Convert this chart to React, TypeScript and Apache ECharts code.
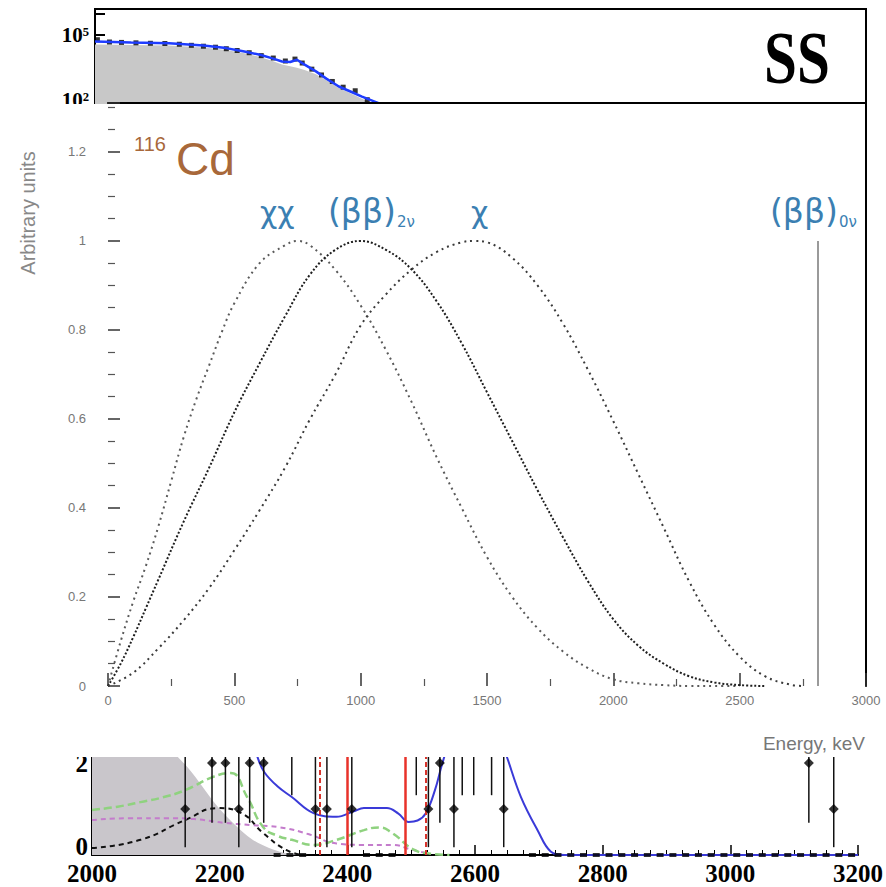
import React, { useEffect, useRef } from 'react';
import * as echarts from 'echarts';

// ---------- main panel (116Cd spectra) ----------
const xxEnergy = [0, 50, 100, 150, 200, 250, 300, 350, 400, 450, 500, 600, 700, 750, 800, 900, 1000, 1100, 1200, 1300, 1400, 1500, 1600, 1700, 1800, 1900, 2000, 2100, 2200, 2300, 2400, 2500];
const xxValue = [0, 0.1, 0.19, 0.27, 0.36, 0.46, 0.56, 0.645, 0.72, 0.795, 0.86, 0.95, 0.99, 1.0, 0.99, 0.935, 0.855, 0.755, 0.64, 0.515, 0.4, 0.29, 0.2, 0.13, 0.078, 0.04, 0.015, 0.006, 0.002, 0, 0, 0];

const bb2Energy = [0, 50, 100, 150, 200, 300, 400, 500, 600, 700, 800, 900, 1000, 1100, 1200, 1300, 1400, 1500, 1600, 1700, 1800, 1900, 2000, 2100, 2200, 2300, 2400, 2500, 2600];
const bb2Value = [0, 0.05, 0.11, 0.175, 0.24, 0.37, 0.49, 0.615, 0.725, 0.83, 0.925, 0.98, 1.0, 0.98, 0.937, 0.865, 0.77, 0.66, 0.55, 0.44, 0.335, 0.235, 0.15, 0.09, 0.05, 0.022, 0.008, 0.002, 0];

const chiEnergy = [0, 100, 200, 300, 400, 500, 600, 700, 800, 900, 1000, 1100, 1200, 1300, 1400, 1450, 1500, 1600, 1700, 1800, 1900, 2000, 2100, 2200, 2300, 2400, 2500, 2600, 2700, 2750];
const chiValue = [0, 0.03, 0.085, 0.148, 0.22, 0.305, 0.395, 0.49, 0.6, 0.7, 0.81, 0.88, 0.935, 0.975, 0.997, 1.0, 0.997, 0.962, 0.9, 0.815, 0.71, 0.595, 0.475, 0.355, 0.235, 0.137, 0.066, 0.022, 0.003, 0];

const q0nuEnergy = 2810;
const q0nuHeight = 1.0;

// ---------- top strip (SS spectrum, log scale) ----------
const topModelEnergy = [0, 150, 307, 450, 544, 620, 685, 740, 776, 810, 838, 870, 917, 960, 1012, 1060, 1108, 1174, 1240];
const topModelCounts = [49000, 45000, 41500, 32000, 24500, 17000, 12000, 8000, 5900, 5600, 7100, 4200, 2050, 950, 410, 240, 140, 71, 30];
const topFillEnergy = [0, 150, 307, 450, 544, 620, 685, 740, 776, 810, 838, 870, 917, 960, 1012, 1060, 1108, 1174, 1240];
const topFillCounts = [36000, 34000, 32000, 26000, 20000, 14000, 9500, 6000, 4300, 3500, 3000, 2400, 1500, 800, 350, 200, 110, 50, 20];
const topDataEnergy = [10, 60, 110, 170, 230, 290, 350, 400, 450, 500, 545, 590, 640, 690, 740, 790, 830, 860, 900, 940, 985, 1030, 1080, 1130];
const topDataCounts = [60000, 47000, 45000, 43000, 41000, 40000, 37000, 33000, 30000, 27000, 23000, 19000, 15000, 11000, 8500, 6200, 7600, 5000, 2600, 1400, 700, 380, 260, 100];

// ---------- bottom strip (ROI counts) ----------
const botGrayEnergy = [2000, 2050, 2100, 2150, 2200, 2250, 2300, 2350];
const botGrayValue = [3.6, 3.2, 2.6, 1.9, 1.0, 0.35, 0.05, 0];
const botBlueEnergy = [2200, 2240, 2260, 2270, 2290, 2313, 2347, 2383, 2410, 2426, 2462, 2480, 2496, 2510, 2523, 2537, 2549, 2570, 2600, 2630, 2650, 2672, 2698, 2719, 2740, 3200];
const botBlueValue = [4.2, 3.0, 2.1, 1.8, 1.5, 1.26, 0.91, 0.83, 0.95, 1.02, 1.02, 0.9, 0.72, 0.75, 0.91, 1.4, 2.0, 2.9, 3.5, 2.9, 2.13, 1.26, 0.54, 0.07, 0, 0];
const botGreenEnergy = [2000, 2040, 2076, 2110, 2146, 2190, 2217, 2243, 2268, 2290, 2313, 2347, 2383, 2426, 2450, 2470, 2505, 2530, 2560];
const botGreenValue = [0.98, 1.05, 1.15, 1.25, 1.41, 1.7, 1.78, 1.26, 0.61, 0.42, 0.33, 0.22, 0.33, 0.54, 0.6, 0.48, 0.11, 0.03, 0];
const botMagentaEnergy = [2000, 2060, 2119, 2160, 2207, 2250, 2295, 2340, 2383, 2420, 2470, 2500, 2530];
const botMagentaValue = [0.76, 0.8, 0.8, 0.78, 0.7, 0.65, 0.6, 0.45, 0.25, 0.22, 0.22, 0.12, 0.02];
const botBlackEnergy = [2000, 2076, 2146, 2198, 2234, 2268, 2304, 2330];
const botBlackValue = [0.15, 0.33, 0.76, 1.02, 0.91, 0.48, 0.11, 0];
const roiSolid = [2400, 2490];
const roiDashed = [2357, 2523];
const pointEnergy = [2146, 2188, 2209, 2230, 2247, 2269, 2350, 2368, 2407, 2527, 2545, 2567, 2645, 3123, 3162];
const pointCount = [1, 2, 2, 1, 2, 2, 1, 1, 1, 1, 2, 1, 1, 2, 1];
const pointErrLow = [0.17, 0.7, 0.7, 0.17, 0.7, 0.7, 0.17, 0.17, 0.17, 0.17, 0.7, 0.17, 0.17, 0.7, 0.17];
const pointErrHigh = [3.3, 4.6, 4.6, 3.3, 4.6, 4.6, 3.3, 3.3, 3.3, 3.3, 4.6, 3.3, 3.3, 4.6, 3.3];
const emptyBarEnergy = [2313, 2508, 2580, 2598, 2626];
const emptyBarLow = [1.3, 1.3, 1.3, 1.3, 1.3];
const emptyBarHigh = [4.2, 4.2, 4.2, 4.2, 4.2];
const zeroBinEnergy = [2290, 2310, 2330, 2430, 2450, 2470, 2690, 2710, 2730, 2750, 2770, 2790, 2810, 2830, 2850, 2870, 2890, 2910, 2930, 2950, 2970, 2990, 3010, 3030, 3050, 3070, 3090, 3110, 3130, 3150, 3170, 3190];

const zip = (xs: number[], ys: number[]) => xs.map((x, i) => [x, ys[i]]);

const SANS = '"Liberation Sans", Arial, sans-serif';
const GREEK = '"DejaVu Sans", "Liberation Sans", sans-serif';
const SERIF = '"Liberation Serif", "Times New Roman", serif';
const BLUE_TXT = '#3b7fb2';
const BROWN_TXT = '#a8683a';

function errorBarRender(params: any, api: any) {
  const x = api.value(0);
  const p1 = api.coord([x, api.value(1)]);
  const p2 = api.coord([x, api.value(2)]);
  return {
    type: 'line',
    shape: { x1: p1[0], y1: p1[1], x2: p2[0], y2: p2[1] },
    style: { stroke: '#111', lineWidth: 1.5 },
  };
}

function txt(text: string, x: number, y: number, font: string, fill: string, align = 'left', extra: any = {}) {
  return {
    type: 'text',
    x,
    y,
    z: 70,
    ...extra,
    style: { text, font, fill, textAlign: align, align, textVerticalAlign: 'middle', verticalAlign: 'middle' },
  };
}

export default function App() {
  const ref = useRef<HTMLDivElement>(null);
  useEffect(() => {
    const chart = echarts.init(ref.current!, null, { renderer: 'svg' });
    const option: any = {
      animation: false,
      backgroundColor: '#ffffff',
      grid: [
        { left: 95, right: 20, top: 9, height: 108, show: true, borderColor: '#000', borderWidth: 2, backgroundColor: 'transparent' },
        { left: 92, right: 20, top: 671, height: 184 },
        { left: 108, right: 20, top: 103, height: 583 },
      ],
      xAxis: [
        { gridIndex: 0, type: 'value', min: 0, max: 3200, axisLabel: { show: false }, axisTick: { show: false }, axisLine: { show: false }, splitLine: { show: false } },
        {
          gridIndex: 1, type: 'value', min: 2000, max: 3200, interval: 200,
          axisLine: { onZero: false, lineStyle: { color: '#000', width: 2 } },
          axisTick: { inside: true, length: 10, lineStyle: { color: '#000', width: 1.5 } },
          minorTick: { show: true, splitNumber: 8, length: 5, lineStyle: { color: '#000' } },
          axisLabel: { color: '#000', fontFamily: SERIF, fontWeight: 'bold', fontSize: 25, margin: 6, formatter: (v: number) => String(v) },
          splitLine: { show: false },
        },
        {
          gridIndex: 2, type: 'value', min: 0, max: 3000, interval: 500, z: 60,
          axisLine: { show: false, onZero: false },
          axisTick: { inside: true, length: 13, lineStyle: { color: '#333', width: 1.5 } },
          minorTick: { show: true, splitNumber: 2, length: 7, lineStyle: { color: '#555', width: 1.2 } },
          axisLabel: { color: '#777', fontFamily: SANS, fontSize: 13, margin: 8, formatter: (v: number) => String(v) },
          splitLine: { show: false },
        },
        {
          gridIndex: 2, type: 'value', min: 0, max: 3000, position: 'top', z: 60,
          axisLine: { show: true, onZero: false, lineStyle: { color: '#000', width: 2 } },
          axisTick: { show: false }, axisLabel: { show: false }, splitLine: { show: false },
        },
      ],
      yAxis: [
        {
          gridIndex: 0, type: 'log', logBase: 10, min: Math.pow(10, 1.2), max: Math.pow(10, 6.2),
          axisLine: { show: false },
          axisTick: { inside: true, length: 10, lineStyle: { color: '#000', width: 2 } },
          axisLabel: {
            color: '#000', fontFamily: SERIF, fontWeight: 'bold', fontSize: 21, margin: 6,
            formatter: (v: number) => {
              const e = Math.round(Math.log10(v));
              if (Math.abs(Math.log10(v) - e) > 1e-6) return '';
              return e === 5 ? '10⁵' : e === 2 ? '10²' : '';
            },
          },
          splitLine: { show: false },
        },
        {
          gridIndex: 1, type: 'value', min: 0, max: 4, interval: 2,
          axisLine: { onZero: false, lineStyle: { color: '#000', width: 2 } },
          axisTick: { inside: true, length: 14, lineStyle: { color: '#000', width: 2 } },
          minorTick: { show: true, splitNumber: 5, length: 7, lineStyle: { color: '#000' } },
          axisLabel: {
            color: '#000', fontFamily: SERIF, fontWeight: 'bold', fontSize: 25, margin: 4,
            formatter: (v: number) => (v === 0 ? '{z|0}' : v === 2 ? '{n|2}' : ''),
            rich: {
              z: { fontFamily: SERIF, fontWeight: 'bold', fontSize: 25, color: '#000', padding: [0, 0, 18, 0] },
              n: { fontFamily: SERIF, fontWeight: 'bold', fontSize: 25, color: '#000' },
            },
          },
          splitLine: { show: false },
        },
        {
          gridIndex: 2, type: 'value', min: 0, max: 1.31, interval: 0.2, z: 60,
          axisLine: { show: false, onZero: false },
          axisTick: { inside: true, length: 12, lineStyle: { color: '#333', width: 1.5 } },
          minorTick: { show: true, splitNumber: 4, length: 7, lineStyle: { color: '#555', width: 1.2 } },
          axisLabel: {
            color: '#777', fontFamily: SANS, fontSize: 13, margin: 22,
            formatter: (v: number) => (Math.abs(v / 0.2 - Math.round(v / 0.2)) > 1e-6 ? '' : String(Math.round(v * 10) / 10)),
          },
          splitLine: { show: false },
        },
        {
          gridIndex: 2, type: 'value', min: 0, max: 1.31, position: 'right', z: 60,
          axisLine: { show: true, onZero: false, lineStyle: { color: '#000', width: 2 } },
          axisTick: { show: false }, axisLabel: { show: false }, splitLine: { show: false },
        },
      ],
      series: [
        // top strip
        {
          type: 'line', xAxisIndex: 0, yAxisIndex: 0, data: zip(topFillEnergy, topFillCounts), symbol: 'none',
          lineStyle: { width: 0 }, areaStyle: { color: '#c8c8c8', opacity: 1, origin: 'start' }, z: 2,
        },
        {
          type: 'scatter', xAxisIndex: 0, yAxisIndex: 0, data: zip(topDataEnergy, topDataCounts),
          symbol: 'rect', symbolSize: [5, 5], itemStyle: { color: '#000' }, z: 3,
        },
        {
          type: 'line', xAxisIndex: 0, yAxisIndex: 0, data: zip(topModelEnergy, topModelCounts), symbol: 'none',
          lineStyle: { color: '#1e3cff', width: 2.5 }, z: 4,
        },
        // bottom strip
        {
          type: 'line', xAxisIndex: 1, yAxisIndex: 1, data: zip(botGrayEnergy, botGrayValue), symbol: 'none', smooth: 0.3,
          lineStyle: { width: 0 }, areaStyle: { color: '#c9c6cb', opacity: 1 }, z: 2,
        },
        {
          type: 'line', xAxisIndex: 1, yAxisIndex: 1, data: zip(botBlackEnergy, botBlackValue), symbol: 'none', smooth: true,
          lineStyle: { color: '#111', width: 2, type: [5, 4] }, z: 3,
        },
        {
          type: 'line', xAxisIndex: 1, yAxisIndex: 1, data: zip(botMagentaEnergy, botMagentaValue), symbol: 'none', smooth: true,
          lineStyle: { color: '#c47ccc', width: 2, type: [5, 4] }, z: 3,
        },
        {
          type: 'line', xAxisIndex: 1, yAxisIndex: 1, data: zip(botGreenEnergy, botGreenValue), symbol: 'none', smooth: true,
          lineStyle: { color: '#8fd27f', width: 2.5, type: [8, 4] }, z: 3,
        },
        {
          type: 'line', xAxisIndex: 1, yAxisIndex: 1, data: zip(botBlueEnergy, botBlueValue), symbol: 'none', smooth: 0.4,
          lineStyle: { color: '#3a3ad8', width: 2 }, z: 4,
          markLine: {
            silent: true, symbol: 'none', label: { show: false },
            data: [
              ...roiSolid.map((e) => ({ xAxis: e, lineStyle: { color: '#e8322a', width: 2.5, type: 'solid' } })),
              ...roiDashed.map((e) => ({ xAxis: e, lineStyle: { color: '#d8342c', width: 2, type: [5, 3] } })),
            ],
          },
        },
        {
          type: 'custom', xAxisIndex: 1, yAxisIndex: 1, renderItem: errorBarRender, z: 5,
          data: pointEnergy.map((e, i) => [e, pointErrLow[i], pointErrHigh[i]]),
        },
        {
          type: 'custom', xAxisIndex: 1, yAxisIndex: 1, renderItem: errorBarRender, z: 5,
          data: emptyBarEnergy.map((e, i) => [e, emptyBarLow[i], emptyBarHigh[i]]),
        },
        {
          type: 'scatter', xAxisIndex: 1, yAxisIndex: 1, data: zip(pointEnergy, pointCount),
          symbol: 'diamond', symbolSize: 10, itemStyle: { color: '#000' }, z: 6,
        },
        {
          type: 'scatter', xAxisIndex: 1, yAxisIndex: 1, data: zeroBinEnergy.map((e) => [e, 0]),
          symbol: 'rect', symbolSize: [7, 4], itemStyle: { color: '#000' }, z: 6,
        },
        // main panel
        {
          name: 'χχ', type: 'line', xAxisIndex: 2, yAxisIndex: 2, data: zip(xxEnergy, xxValue), symbol: 'none', smooth: 0.4, z: 60,
          lineStyle: { color: '#5a5a5a', width: 2, type: [2, 4] },
        },
        {
          name: '(ββ)2ν', type: 'line', xAxisIndex: 2, yAxisIndex: 2, data: zip(bb2Energy, bb2Value), symbol: 'none', smooth: 0.4, z: 60,
          lineStyle: { color: '#1e1e1e', width: 2, type: [2, 2] },
        },
        {
          name: 'χ', type: 'line', xAxisIndex: 2, yAxisIndex: 2, data: zip(chiEnergy, chiValue), symbol: 'none', smooth: 0.4, z: 60,
          lineStyle: { color: '#3a3a3a', width: 2, type: [2, 4] },
          markLine: {
            z: 61, silent: true, symbol: 'none', label: { show: false },
            lineStyle: { color: '#9a9a9a', width: 2, type: 'solid' },
            data: [[{ coord: [q0nuEnergy, 0] }, { coord: [q0nuEnergy, q0nuHeight] }]],
          },
        },
      ],
      graphic: [
        { type: 'rect', z: 50, shape: { x: 0, y: 104, width: 886, height: 653 }, style: { fill: '#ffffff' } },
        txt('SS', 764, 58, `bold 74px ${SERIF}`, '#000', 'left', { scaleX: 0.8 }),
        txt('116', 134, 144, `20px ${SANS}`, BROWN_TXT),
        txt('Cd', 176, 159, `46px ${SANS}`, BROWN_TXT),
        txt('χχ', 260, 212, `30px ${GREEK}`, BLUE_TXT),
        txt('(ββ)', 328, 211, `33px ${GREEK}`, BLUE_TXT),
        txt('2ν', 397, 222, `15px ${GREEK}`, BLUE_TXT),
        txt('χ', 471, 212, `30px ${GREEK}`, BLUE_TXT),
        txt('(ββ)', 770, 211, `33px ${GREEK}`, BLUE_TXT),
        txt('0ν', 839, 222, `15px ${GREEK}`, BLUE_TXT),
        txt('Energy, keV', 865, 743, `19px ${SANS}`, '#777', 'right'),
        txt('Arbitrary units', 28, 213, `20px ${SANS}`, '#888', 'center', { rotation: Math.PI / 2 }),
      ],
    };
    chart.setOption(option);
    return () => chart.dispose();
  }, []);
  return <div ref={ref} style={{ position: 'absolute', left: 0, top: 0, width: 886, height: 887 }} />;
}
